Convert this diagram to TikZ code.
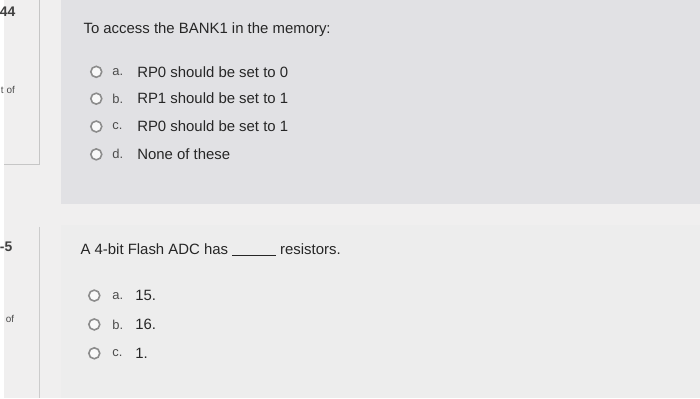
\documentclass[tikz,border=0pt]{standalone}
\usepackage{fontspec}
\setmainfont{Liberation Sans}
\begin{document}
\begin{tikzpicture}[x=1pt,y=-1pt,
  txt/.style={anchor=west,inner sep=0pt,font=\fontsize{15}{17}\selectfont,text=black!85},
  radio/.style={circle,draw=black!45,line width=1.6pt,minimum size=11pt,inner sep=0pt,fill=white!95!gray},
  lbl/.style={anchor=west,inner sep=0pt,font=\fontsize{13}{15}\selectfont,text=black!70}]
\fill[red!4!gray!12] (0,0) rectangle (700,400);
\fill[blue!5!gray!22] (58,0) rectangle (700,205);
\fill[gray!14] (58,226) rectangle (700,400);
\draw[gray!45] (36,0) -- (36,165) -- (0,165);
\draw[gray!40] (36,228) -- (36,400);
\node[anchor=west,inner sep=0pt,font=\bfseries\fontsize{14}{16}\selectfont,text=black!75] (n4) at (-4,12) {44};
\node[anchor=west,inner sep=0pt,font=\fontsize{10}{12}\selectfont,text=black!70] (t1) at (-3,90) {t of};
\node[anchor=west,inner sep=0pt,font=\bfseries\fontsize{14}{16}\selectfont,text=black!75] (n5) at (-4,248) {-5};
\node[anchor=west,inner sep=0pt,font=\fontsize{10}{12}\selectfont,text=black!70] (t2) at (2,320) {of};
\node[txt] (q1) at (80,30) {To access the BANK1 in the memory:};
\foreach \y/\l/\t [count=\i] in {72/a./RP0 should be set to 0,99/b./RP1 should be set to 1,127/c./RP0 should be set to 1,155/d./None of these}{
  \node[radio] (r\i) at (93,\y) {};
  \node[lbl] (l\i) at (109,\y) {\l};
  \node[txt] (a\i) at (134,\y) {\t};
}
\node[txt] (q2) at (77,251) {A 4-bit Flash ADC has \rule[-1pt]{44pt}{0.6pt} resistors.};
\foreach \y/\l/\t [count=\i] in {297/a./15.,326/b./16.,355/c./1.}{
  \node[radio] (s\i) at (91,\y) {};
  \node[lbl] (m\i) at (109,\y) {\l};
  \node[txt] (b\i) at (132,\y) {\t};
}
\end{tikzpicture}
\end{document}
